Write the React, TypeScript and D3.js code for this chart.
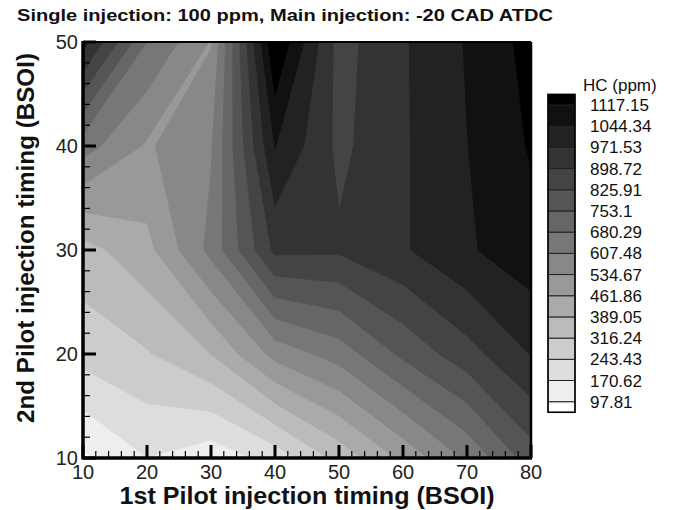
import React from 'react';
import * as d3 from 'd3';

// 1st pilot timing (x) and 2nd pilot timing (y), BSOI
const firstPilot = [10, 20, 30, 40, 50, 60, 70, 80];
const secondPilot = [10, 20, 30, 40, 50];

// HC (ppm) at each grid node, one array per 2nd-pilot timing row
const hcAt10 = [85, 170, 125, 200, 340, 480, 620, 790];
const hcAt20 = [270, 310, 390, 560, 640, 770, 870, 975];
const hcAt30 = [360, 440, 630, 915, 910, 963, 1035, 1090];
const hcAt40 = [640, 525, 600, 1047, 880, 962, 1043, 1124];
const hcAt50 = [1000, 680, 530, 1190, 870, 963, 1050, 1143];

const levels = [97.81, 170.62, 243.43, 316.24, 389.05, 461.86, 534.67, 607.48, 680.29, 753.1, 825.91, 898.72, 971.53, 1044.34, 1117.15];
const levelLabels = ['97.81', '170.62', '243.43', '316.24', '389.05', '461.86', '534.67', '607.48', '680.29', '753.1', '825.91', '898.72', '971.53', '1044.34', '1117.15'];

const xTicks = [10, 20, 30, 40, 50, 60, 70, 80];
const yTicks = [10, 20, 30, 40, 50];

const titleText = 'Single injection: 100 ppm, Main injection: -20 CAD ATDC';
const xTitle = '1st Pilot injection timing (BSOI)';
const yTitle = '2nd Pilot injection timing (BSOI)';
const legendTitle = 'HC (ppm)';

export default function App() {
  const W = 675, H = 510;
  const left = 83, right = 531, top = 42, bottom = 458;
  const x = d3.scaleLinear().domain([10, 80]).range([left, right]);
  const y = d3.scaleLinear().domain([10, 50]).range([bottom, top]);

  const rows = [hcAt10, hcAt20, hcAt30, hcAt40, hcAt50];
  const nx = firstPilot.length, ny = secondPilot.length;
  const values = rows.flat();
  const contours = d3.contours().size([nx, ny]).smooth(true).thresholds(levels)(values);

  const gx = d3.scaleLinear().domain([0.5, nx - 0.5]).range([firstPilot[0], firstPilot[nx - 1]]);
  const gy = d3.scaleLinear().domain([0.5, ny - 0.5]).range([secondPilot[0], secondPilot[ny - 1]]);
  const proj = d3.geoTransform({
    point(px: number, py: number) {
      (this as any).stream.point(x(gx(px)), y(gy(py)));
    },
  });
  const path = d3.geoPath(proj);

  const nBands = levels.length + 1;
  const bandColor = (k: number) => d3.interpolateRgb('#ffffff', '#000000')(k / (nBands - 1));

  // legend
  const step = levels[1] - levels[0];
  const ly = d3.scaleLinear().domain([levels[0], levels[levels.length - 1]]).range([401.7, 105]);
  const legX = 548, legW = 27;
  const bands = d3.range(nBands).map((k) => {
    const lo = k === 0 ? levels[0] - step / 2 : levels[k - 1];
    const hi = k === nBands - 1 ? levels[levels.length - 1] + step / 2 : levels[k];
    return { k, lo, hi };
  });

  const minorX = d3.range(10, 80.1, 2).filter((v) => v % 10 !== 0);
  const minorY = d3.range(10, 50.1, 2).filter((v) => v % 10 !== 0);

  const font = 'Liberation Sans, Arial, sans-serif';

  return (
    <svg width={W} height={H} viewBox={`0 0 ${W} ${H}`} style={{ display: 'block', position: 'absolute', left: 0, top: 0, background: '#fff' }}>
      <defs>
        <clipPath id="plotClip">
          <rect x={left} y={top} width={right - left} height={bottom - top} />
        </clipPath>
      </defs>
      <text x={17} y={21} fontFamily={font} fontWeight="bold" fontSize={17} textLength={536} lengthAdjust="spacingAndGlyphs" fill="#111">{titleText}</text>

      <g clipPath="url(#plotClip)">
        <rect x={left} y={top} width={right - left} height={bottom - top} fill={bandColor(0)} />
        {contours.map((c, i) => (
          <path key={i} d={path(c as any) || ''} fill={bandColor(i + 1)} stroke={bandColor(i + 1)} strokeWidth={0.6} />
        ))}
      </g>

      {/* frame */}
      <line x1={left} y1={top} x2={right} y2={top} stroke="#000" strokeWidth={2} />
      <line x1={right} y1={top} x2={right} y2={bottom} stroke="#000" strokeWidth={2.5} />
      <line x1={left} y1={bottom} x2={right + 1} y2={bottom} stroke="#000" strokeWidth={3.5} />
      <line x1={left} y1={top - 1} x2={left} y2={bottom + 1.5} stroke="#000" strokeWidth={3.5} />

      {/* x ticks */}
      {xTicks.map((t) => (
        <g key={'xt' + t}>
          <line x1={x(t)} x2={x(t)} y1={bottom} y2={bottom - 13} stroke="#000" strokeWidth={3} />
          <text x={x(t)} y={479} textAnchor="middle" fontFamily={font} fontSize={20} fill="#222">{t}</text>
        </g>
      ))}
      {minorX.map((t) => (
        <line key={'xm' + t} x1={x(t)} x2={x(t)} y1={bottom} y2={bottom - 7} stroke="#000" strokeWidth={1.2} />
      ))}
      {/* y ticks */}
      {yTicks.map((t) => (
        <g key={'yt' + t}>
          <line x1={left} x2={left + 13} y1={y(t)} y2={y(t)} stroke="#000" strokeWidth={3} />
          <text x={78} y={y(t) + 7} textAnchor="end" fontFamily={font} fontSize={20} fill="#222">{t}</text>
        </g>
      ))}
      {minorY.map((t) => (
        <line key={'ym' + t} x1={left} x2={left + 7} y1={y(t)} y2={y(t)} stroke="#000" strokeWidth={1.2} />
      ))}

      <text x={307} y={504} textAnchor="middle" fontFamily={font} fontWeight="bold" fontSize={24} textLength={375} lengthAdjust="spacingAndGlyphs" fill="#111">{xTitle}</text>
      <text transform={`translate(34,238) rotate(-90)`} textAnchor="middle" fontFamily={font} fontWeight="bold" fontSize={24} textLength={370} lengthAdjust="spacingAndGlyphs" fill="#111">{yTitle}</text>

      {/* legend */}
      <text x={583} y={91} fontFamily={font} fontSize={17} fill="#111">{legendTitle}</text>
      {bands.map((b) => (
        <rect key={'lb' + b.k} x={legX} y={ly(b.hi)} width={legW} height={ly(b.lo) - ly(b.hi)} fill={bandColor(b.k)} stroke="#222" strokeWidth={1} />
      ))}
      <rect x={legX} y={ly(levels[levels.length - 1] + step / 2)} width={legW} height={ly(levels[0] - step / 2) - ly(levels[levels.length - 1] + step / 2)} fill="none" stroke="#000" strokeWidth={1.5} />
      {levels.map((v, i) => (
        <text key={'ll' + i} x={590} y={ly(v) + 6} fontFamily={font} fontSize={17} fill="#111">{levelLabels[i]}</text>
      ))}
    </svg>
  );
}
